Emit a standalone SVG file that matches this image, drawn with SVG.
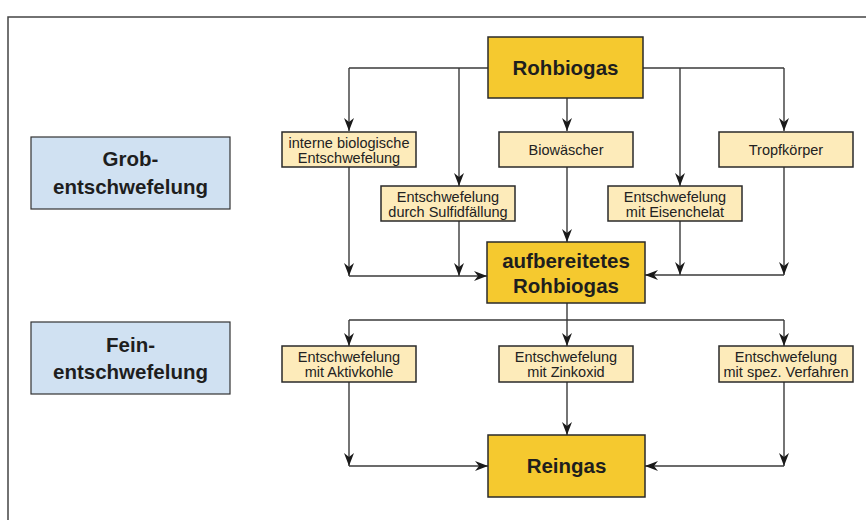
<svg xmlns="http://www.w3.org/2000/svg" width="866" height="520" viewBox="0 0 866 520">
<defs>
<style>
.main{fill:#F5C92F;stroke:#2a2a2a;stroke-width:1.5}
.sub{fill:#FDEBBA;stroke:#2a2a2a;stroke-width:1.5}
.cat{fill:#D0E1F2;stroke:#333;stroke-width:1.2}
.tb{font-family:"Liberation Sans",Arial,sans-serif;font-weight:bold;font-size:20.5px;fill:#1e1e1e;text-anchor:middle}
.ts{font-family:"Liberation Sans",Arial,sans-serif;font-size:14.5px;fill:#222;text-anchor:middle}
.c{fill:none;stroke:#3a3a3a;stroke-width:1.4}
.ca{fill:none;stroke:#3a3a3a;stroke-width:1.4;marker-end:url(#ah)}
</style>
<marker id="ah" viewBox="0 0 13 10" markerWidth="13" markerHeight="10" refX="13" refY="5" orient="auto" markerUnits="userSpaceOnUse">
<path d="M0,0 L13,5 L0,10 L4,5 Z" fill="#1a1a1a"/>
</marker>
</defs>
<rect x="8" y="17" width="870" height="520" fill="#fff" stroke="#444" stroke-width="1.5"/>

<g id="connectors">
<path class="c" d="M488,68 H349"/>
<path class="ca" d="M349,68 V131"/>
<path class="ca" d="M459,68 V186"/>
<path class="c" d="M643,68 H784"/>
<path class="ca" d="M784,68 V131"/>
<path class="ca" d="M680,68 V186"/>
<path class="ca" d="M567,98 V131"/>
<path class="ca" d="M349,167 V276"/>
<path class="ca" d="M459,221 V276"/>
<path class="ca" d="M349,276 H487"/>
<path class="ca" d="M567,167 V242"/>
<path class="ca" d="M680,221 V275"/>
<path class="ca" d="M784,167 V275"/>
<path class="ca" d="M784,275 H645"/>
<path class="ca" d="M567,303 V346"/>
<path class="c" d="M349,320 H784"/>
<path class="ca" d="M349,320 V346"/>
<path class="ca" d="M784,320 V346"/>
<path class="ca" d="M349,382 V466"/>
<path class="ca" d="M349,466 H488"/>
<path class="ca" d="M567,382 V435"/>
<path class="ca" d="M784,382 V466"/>
<path class="ca" d="M784,466 H645"/>
</g>

<g id="grob">
<rect class="cat" x="31" y="137" width="199" height="72"/>
<text class="tb" x="130.5" y="166">Grob-</text>
<text class="tb" x="130.5" y="194">entschwefelung</text>
</g>
<g id="fein">
<rect class="cat" x="31" y="322" width="199" height="72"/>
<text class="tb" x="130.5" y="352">Fein-</text>
<text class="tb" x="130.5" y="379">entschwefelung</text>
</g>

<g id="rohbiogas">
<rect class="main" x="488" y="37" width="155" height="61"/>
<text class="tb" x="565.5" y="75">Rohbiogas</text>
</g>
<g id="interne">
<rect class="sub" x="282" y="132" width="134" height="35"/>
<text class="ts" x="349" y="148">interne biologische</text>
<text class="ts" x="349" y="163">Entschwefelung</text>
</g>
<g id="biowaescher">
<rect class="sub" x="499" y="132" width="134" height="35"/>
<text class="ts" x="566" y="155">Biowäscher</text>
</g>
<g id="tropfkoerper">
<rect class="sub" x="719" y="132" width="134" height="35"/>
<text class="ts" x="786" y="155">Tropfkörper</text>
</g>
<g id="sulfid">
<rect class="sub" x="381" y="186" width="134" height="35"/>
<text class="ts" x="448" y="202">Entschwefelung</text>
<text class="ts" x="448" y="217">durch Sulfidfällung</text>
</g>
<g id="eisenchelat">
<rect class="sub" x="608" y="186" width="134" height="35"/>
<text class="ts" x="675" y="202">Entschwefelung</text>
<text class="ts" x="675" y="217">mit Eisenchelat</text>
</g>
<g id="aufbereitet">
<rect class="main" x="487" y="242" width="158" height="61"/>
<text class="tb" x="566" y="268">aufbereitetes</text>
<text class="tb" x="566" y="293">Rohbiogas</text>
</g>
<g id="aktivkohle">
<rect class="sub" x="282" y="346" width="134" height="36"/>
<text class="ts" x="349" y="362">Entschwefelung</text>
<text class="ts" x="349" y="377">mit Aktivkohle</text>
</g>
<g id="zinkoxid">
<rect class="sub" x="499" y="346" width="134" height="36"/>
<text class="ts" x="566" y="362">Entschwefelung</text>
<text class="ts" x="566" y="377">mit Zinkoxid</text>
</g>
<g id="spez">
<rect class="sub" x="719" y="346" width="134" height="36"/>
<text class="ts" x="786" y="362">Entschwefelung</text>
<text class="ts" x="786" y="377">mit spez. Verfahren</text>
</g>
<g id="reingas">
<rect class="main" x="488" y="435" width="157" height="62"/>
<text class="tb" x="566.5" y="473">Reingas</text>
</g>
</svg>
